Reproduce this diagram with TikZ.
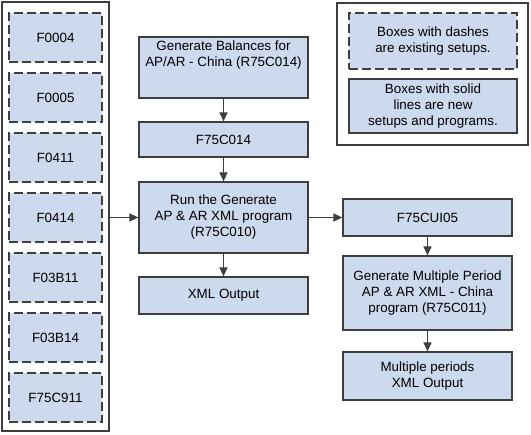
\documentclass[tikz,border=0pt]{standalone}
\usepackage{fontspec}
\setmainfont{Liberation Sans}
\usetikzlibrary{arrows.meta}
\definecolor{boxfill}{RGB}{205,217,236}
\definecolor{bordc}{RGB}{62,62,62}
\newcommand\boxfont{\fontsize{13.4}{16}\selectfont}
\tikzset{
  base/.style={draw=bordc, line width=1.2pt, fill=boxfill, font=\boxfont, align=center, inner sep=0pt},
  newbox/.style={base},
  oldbox/.style={base, dash pattern=on 9pt off 4pt},
  framebox/.style={draw=bordc, line width=1.2pt, inner sep=0pt},
  arr/.style={-{Triangle[width=8pt,length=9pt]}, draw=bordc, line width=1.2pt},
  lw/.style={minimum width=93pt, minimum height=49pt},
  mw/.style={minimum width=169pt}
}
\begin{document}
\begin{tikzpicture}[x=1pt,y=-1pt]
\useasboundingbox (0,0) rectangle (531,435);
% left frame and existing tables
\node[framebox, minimum width=107pt, minimum height=429pt] (leftframe) at (55.5,216.5) {};
\node[oldbox, lw] (f0004) at (55.5,37.5) {F0004};
\node[oldbox, lw] (f0005) at (55.5,97.5) {F0005};
\node[oldbox, lw] (f0411) at (55.5,157.5) {F0411};
\node[oldbox, lw] (f0414) at (55.5,217.5) {F0414};
\node[oldbox, lw] (f03b11) at (55.5,277.5) {F03B11};
\node[oldbox, lw] (f03b14) at (55.5,337.5) {F03B14};
\node[oldbox, lw] (f75c911) at (55.5,397.5) {F75C911};
% middle column
\node[newbox, mw, minimum height=61pt] (genbal) at (223.5,67.5) {};
\node[font=\boxfont, align=center, inner sep=0pt, anchor=north] (genbaltext) at ([yshift=-4pt]genbal.north) {Generate Balances for\\AP/AR - China (R75C014)};
\node[newbox, mw, minimum height=35pt] (f75c014) at (223.5,139.5) {F75C014};
\node[newbox, mw, minimum height=71pt] (run) at (223.5,217.5) {Run the Generate\\AP \& AR XML program\\(R75C010)};
\node[newbox, mw, minimum height=37pt] (xml) at (223.5,295.5) {XML Output};
% right column
\node[newbox, mw, minimum height=37pt] (f75cui05) at (427.5,217.5) {F75CUI05};
\node[newbox, mw, minimum height=74pt] (genmult) at (427.5,293) {Generate Multiple Period\\AP \& AR XML - China\\program (R75C011)};
\node[newbox, mw, minimum height=48pt] (multi) at (427.5,376) {Multiple periods\\XML Output};
% legend
\node[framebox, minimum width=191pt, minimum height=142pt] (legend) at (432.5,74) {};
\node[oldbox, minimum width=168pt, minimum height=56pt] (legold) at (433,41) {Boxes with dashes\\are existing setups.};
\node[newbox, minimum width=168pt, minimum height=54pt] (legnew) at (433,106) {Boxes with solid\\lines are new\\setups and programs.};
% connectors
\draw[arr] (genbal) -- (f75c014);
\draw[arr] (f75c014) -- (run);
\draw[arr] (run) -- (xml);
\draw[arr] (leftframe.east |- run.west) -- (run.west);
\draw[arr] (run.east) -- (f75cui05.west);
\draw[arr] (f75cui05) -- (genmult);
\draw[arr] (genmult) -- (multi);
\end{tikzpicture}
\end{document}
